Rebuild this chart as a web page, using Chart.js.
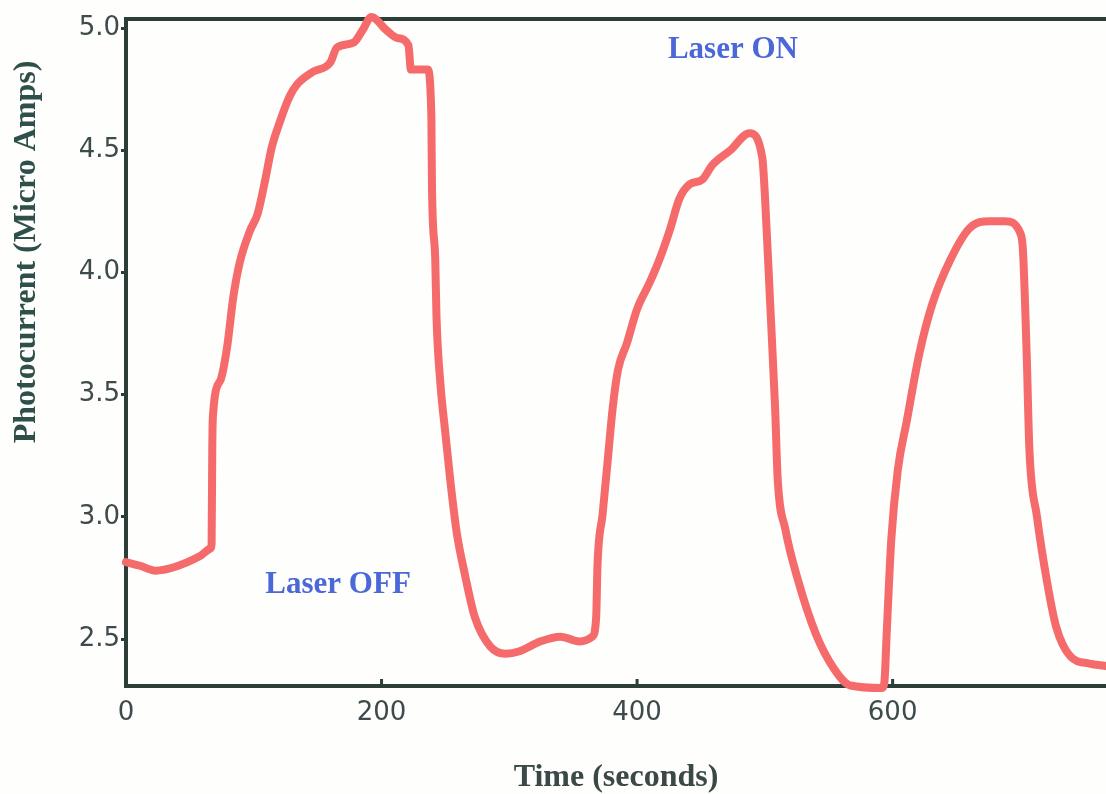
<!DOCTYPE html>
<html>
<head>
<meta charset="utf-8">
<script src="https://cdn.jsdelivr.net/npm/chart.js@4.4.1/dist/chart.umd.min.js"></script>
<style>
  html, body { margin: 0; padding: 0; background: #fefefc; }
  #wrap { width: 1106px; height: 794px; }
</style>
</head>
<body>
<div id="wrap"><canvas id="chart" width="1106" height="794"></canvas></div>
<script>
// time in seconds, photocurrent in micro amps
const timeSeconds = [
  0, 11, 23, 38, 58, 66, 67, 67.5, 68, 74, 79, 84, 89, 97, 103, 109, 114, 120,
  128, 134, 146, 160, 165, 178, 185, 192, 204, 212, 221, 223, 236, 239, 239.5,
  242, 243, 246, 250, 254, 259, 265, 273, 285, 297, 308, 324, 340, 355, 365,
  368, 369, 373, 377, 381, 385, 392, 400, 410, 418, 426, 433, 441, 451, 459,
  473, 488, 498, 500, 504, 508, 510, 516, 526, 540, 554, 567, 592, 593.5,
  595.5, 599, 604, 611, 621, 631, 645, 660, 676, 688, 700, 702, 705, 707, 713,
  721, 728, 739, 754, 767
];
const photocurrent = [
  2.815, 2.80, 2.78, 2.795, 2.84, 2.87, 2.89, 3.27, 3.41, 3.56, 3.69, 3.90, 4.04, 4.17, 4.24, 4.38, 4.51, 4.61,
  4.72, 4.77, 4.82, 4.86, 4.92, 4.94, 4.99, 5.045, 4.99, 4.96, 4.93, 4.83, 4.83, 4.64, 4.34,
  4.06, 3.82, 3.55, 3.34, 3.14, 2.93, 2.77, 2.59, 2.47, 2.44, 2.45, 2.49, 2.51, 2.49, 2.51,
  2.59, 2.80, 3.01, 3.23, 3.45, 3.60, 3.71, 3.85, 3.96, 4.06, 4.18, 4.30, 4.36, 4.38, 4.44,
  4.50, 4.57, 4.47, 4.32, 3.89, 3.45, 3.16, 2.95, 2.74, 2.52, 2.38, 2.31, 2.30, 2.32,
  2.54, 2.91, 3.19, 3.39, 3.67, 3.87, 4.05, 4.18, 4.21, 4.21, 4.16, 4.09, 3.65, 3.28, 3.00,
  2.73, 2.55, 2.43, 2.40, 2.39
];
const xTicks = [0, 200, 400, 600];
const yTicks = [2.5, 3.0, 3.5, 4.0, 4.5, 5.0];
const noteTexts = ["Laser ON", "Laser OFF"];
const noteX = [475, 166];
const noteY = [4.91, 2.72];

const axisColor = "#2c3e38";

const framePlugin = {
  id: "frame",
  beforeDatasetsDraw(chart) {
    const { ctx, chartArea } = chart;
    const xs = chart.scales.x;
    ctx.save();
    ctx.strokeStyle = axisColor;
    ctx.lineWidth = 4;
    ctx.beginPath();
    ctx.moveTo(chartArea.left - 2, chartArea.top);
    ctx.lineTo(chartArea.right, chartArea.top);
    ctx.stroke();
    // small inward ticks on the time axis
    ctx.lineWidth = 3;
    xs.ticks.forEach((t) => {
      const px = xs.getPixelForValue(t.value);
      ctx.beginPath();
      ctx.moveTo(px, chartArea.bottom);
      ctx.lineTo(px, chartArea.bottom - 7);
      ctx.stroke();
    });
    ctx.restore();
  },
  afterDatasetsDraw(chart) {
    const { ctx } = chart;
    const xs = chart.scales.x;
    const ys = chart.scales.y;
    ctx.save();
    ctx.fillStyle = "#4b68d8";
    ctx.font = "bold 31px 'Liberation Serif', 'Times New Roman', serif";
    ctx.textAlign = "center";
    ctx.textBaseline = "middle";
    noteTexts.forEach((txt, i) => {
      ctx.fillText(txt, xs.getPixelForValue(noteX[i]), ys.getPixelForValue(noteY[i]));
    });
    // y axis title
    ctx.fillStyle = "#2f4f4a";
    ctx.font = "bold 32px 'Liberation Serif', 'Times New Roman', serif";
    ctx.translate(27, 252);
    ctx.rotate(-Math.PI / 2);
    ctx.fillText("Photocurrent (Micro Amps)", 0, 0);
    ctx.restore();
  },
};

const ctx = document.getElementById("chart").getContext("2d");
new Chart(ctx, {
  type: "line",
  data: {
    datasets: [
      {
        label: "Photocurrent",
        data: timeSeconds.map((t, i) => ({ x: t, y: photocurrent[i] })),
        borderColor: "#f56b6b",
        borderWidth: 8,
        borderJoinStyle: "round",
        borderCapStyle: "round",
        pointRadius: 0,
        cubicInterpolationMode: "monotone",
        fill: false,
        clip: false,
      },
    ],
  },
  options: {
    responsive: false,
    animation: false,
    layout: { padding: { left: 0, right: 0, top: 19, bottom: 0 } },
    plugins: {
      legend: { display: false },
      tooltip: { enabled: false },
    },
    scales: {
      x: {
        type: "linear",
        min: 0,
        max: 767,
        afterFit: (scale) => { scale.height = 108; },
        afterBuildTicks: (scale) => { scale.ticks = xTicks.map((v) => ({ value: v })); },
        grid: { display: false, drawTicks: false },
        border: { display: true, color: axisColor, width: 4 },
        ticks: {
          padding: 12,
          color: "#3e4a4c",
          font: { family: "'DejaVu Sans', sans-serif", size: 26 },
          callback: (v) => String(v),
        },
        title: {
          display: true,
          text: "Time (seconds)",
          color: "#3b4848",
          font: { family: "'Liberation Serif', 'Times New Roman', serif", size: 32, weight: "bold", lineHeight: 1.0 },
          padding: { top: 0, bottom: 0 },
        },
      },
      y: {
        type: "linear",
        min: 2.308,
        max: 5.037,
        afterFit: (scale) => { scale.width = 126; },
        afterBuildTicks: (scale) => { scale.ticks = yTicks.map((v) => ({ value: v })); },
        grid: { drawOnChartArea: false, drawTicks: true, tickLength: 5, color: axisColor, lineWidth: 3 },
        border: { display: true, color: axisColor, width: 4 },
        ticks: {
          padding: 1,
          color: "#3e4a4c",
          font: { family: "'DejaVu Sans', sans-serif", size: 26 },
          callback: (v) => Number(v).toFixed(1),
        },
      },
    },
  },
  plugins: [framePlugin],
});
</script>
</body>
</html>
